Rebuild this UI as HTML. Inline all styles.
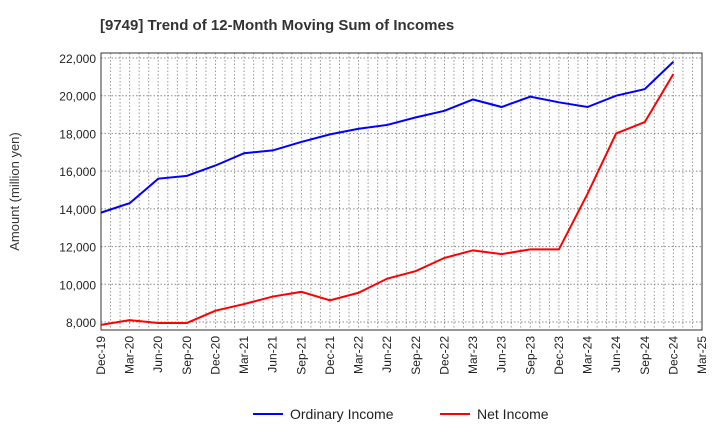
<!DOCTYPE html>
<html><head><meta charset="utf-8"><style>
body{margin:0;background:#fff;font-family:"Liberation Sans",sans-serif}
</style></head><body>
<svg id="c" width="720" height="440" xmlns="http://www.w3.org/2000/svg" font-family="Liberation Sans, sans-serif"></svg>
<script>
const categories=["Dec-19","Mar-20","Jun-20","Sep-20","Dec-20","Mar-21","Jun-21","Sep-21","Dec-21","Mar-22","Jun-22","Sep-22","Dec-22","Mar-23","Jun-23","Sep-23","Dec-23","Mar-24","Jun-24","Sep-24","Dec-24","Mar-25"];
const ordinaryIncome=[13800,14300,15600,15750,16300,16950,17100,17550,17950,18250,18450,18850,19200,19800,19400,19950,19650,19400,20000,20350,21800];
const netIncome=[7850,8100,7950,7950,8600,8950,9350,9600,9150,9550,10300,10700,11400,11800,11600,11850,11850,14800,18000,18600,21150];
const yTicks=[8000,10000,12000,14000,16000,18000,20000,22000];
const svg=document.getElementById('c');const NS="http://www.w3.org/2000/svg";
const L=101,R=702,T=53,B=330,Y0=7576,Y1=22265;
const x=i=>L+i*(R-L)/(categories.length-1);
const y=v=>B-(v-Y0)/(Y1-Y0)*(B-T);
function mk(t,a,p){const e=document.createElementNS(NS,t);for(const k in a)e.setAttribute(k,a[k]);(p||svg).appendChild(e);return e;}
let e;
e=mk('text',{x:100,y:30,'font-size':15,'font-weight':'bold',fill:'#333'});e.textContent="[9749]  Trend of 12-Month Moving Sum of Incomes";


const months=(categories.length-1)*3;
for(let m=1;m<months;m++){const xx=L+m*(R-L)/months;
e=mk('line',{x1:xx,x2:xx,y1:T,y2:B,stroke:'#999','stroke-dasharray':'1.5,2','stroke-width':1});

}
yTicks.forEach(v=>{
e=mk('line',{x1:L,x2:R,y1:y(v),y2:y(v),stroke:'#888','stroke-dasharray':'1.5,2','stroke-width':1});


e=mk('text',{x:L-5,y:y(v)+5,'font-size':12,'text-anchor':'end',fill:'#222'});e.textContent=v.toLocaleString('en-US');

});
e=mk('rect',{x:L,y:T,width:R-L,height:B-T,fill:'none',stroke:'#333','stroke-width':1});


categories.forEach((c,i)=>{
e=mk('text',{transform:`translate(${x(i)+4},${B+6}) rotate(-90)`,'font-size':12,'text-anchor':'end',fill:'#222'});e.textContent=c;

});
e=mk('text',{transform:`translate(19,${(T+B)/2}) rotate(-90)`,'font-size':13,'text-anchor':'middle',fill:'#333'});e.textContent="Amount (million yen)";


function line(d,col,name){e=mk('polyline',{points:d.map((v,i)=>x(i)+','+y(v)).join(' '),fill:'none',stroke:col,'stroke-width':2});

}
line(ordinaryIncome,'#0000ff','ordinary-income-line');
line(netIncome,'#ff0000','net-income-line');
function leg(x0,col,label,name){const g=mk('g',{});


mk('line',{x1:x0,x2:x0+30,y1:414,y2:414,stroke:col,'stroke-width':2},g);
const t=mk('text',{x:x0+37,y:419,'font-size':14,fill:'#222'},g);t.textContent=label;}
leg(253,'#0000ff','Ordinary Income','legend-ordinary-income');
leg(440,'#ff0000','Net Income','legend-net-income');
</script>
</body></html>
